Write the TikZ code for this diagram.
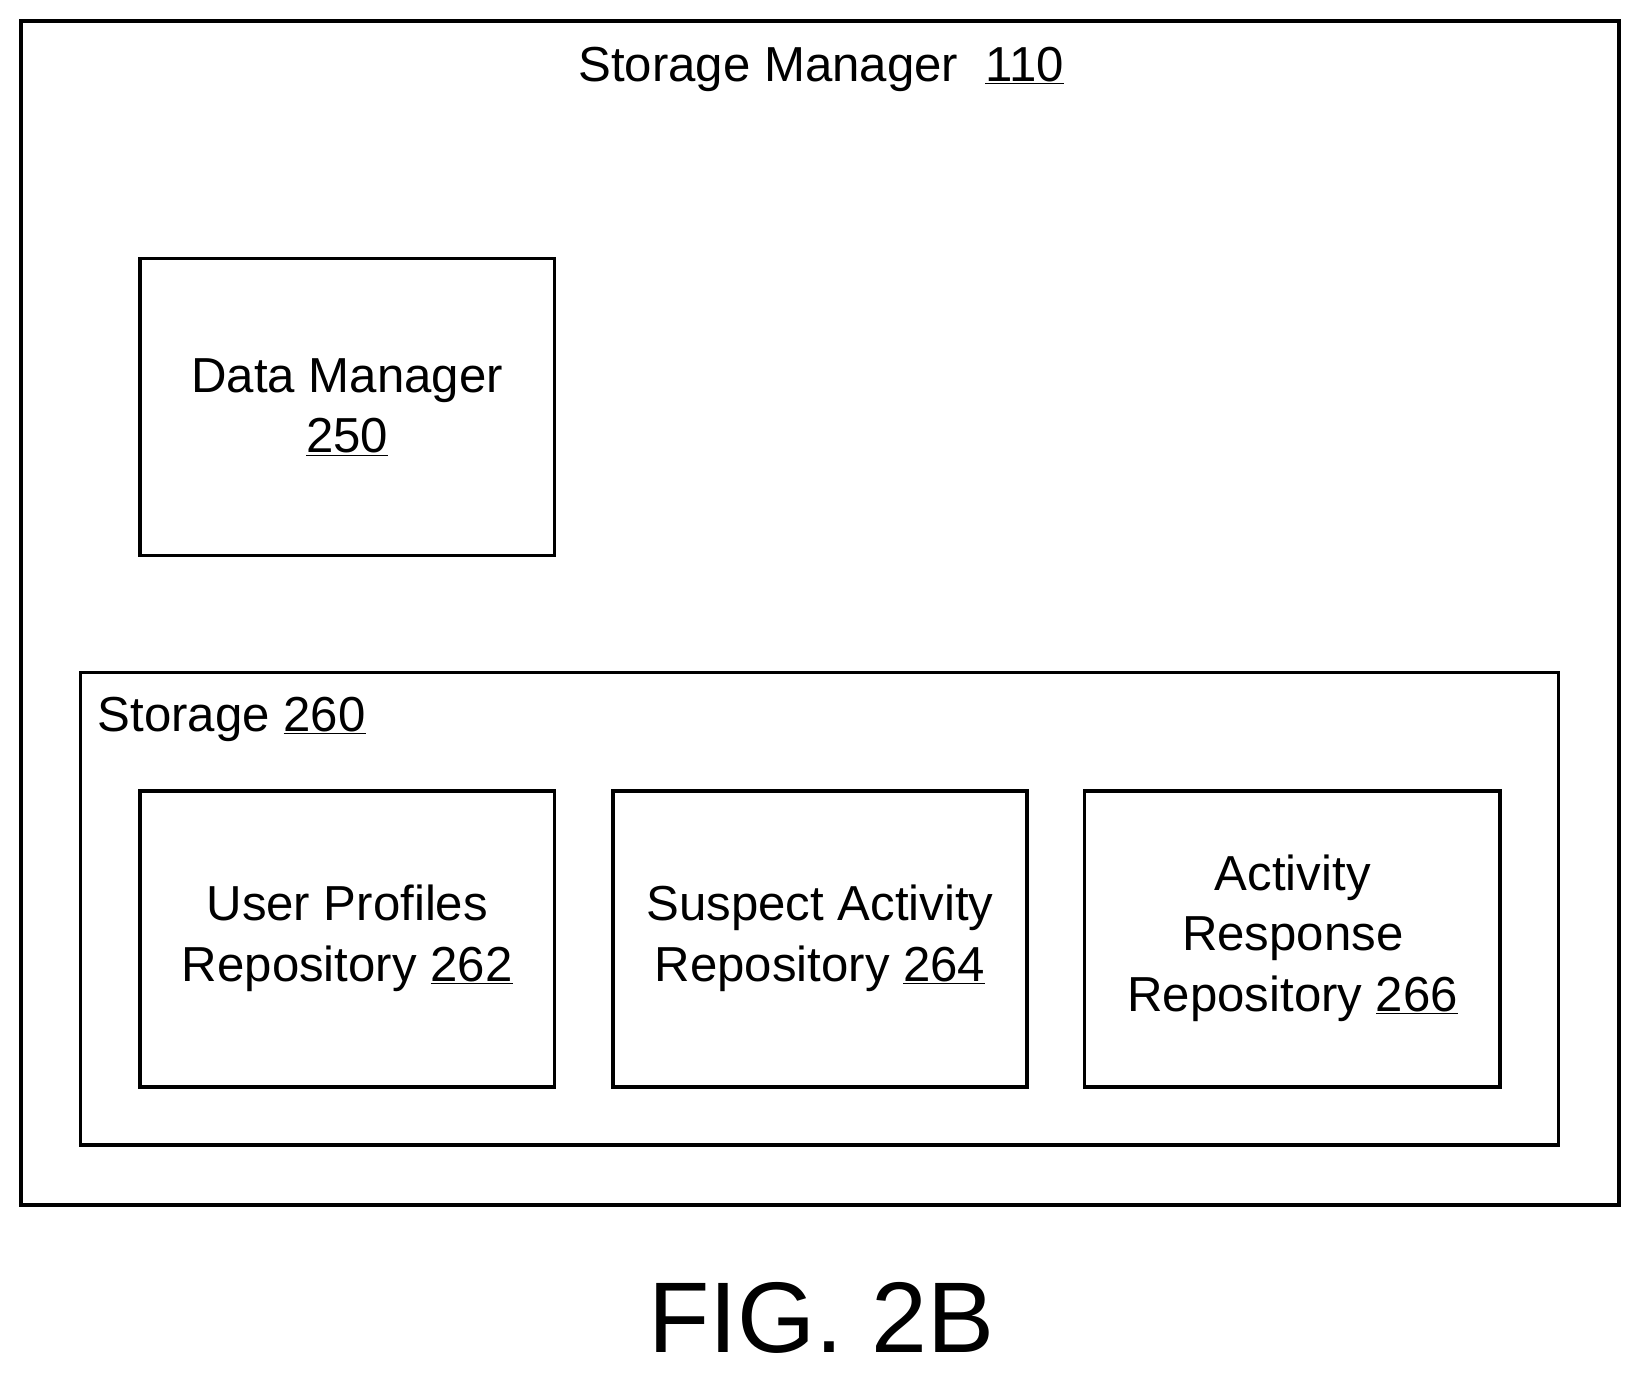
\documentclass[tikz,border=0pt]{standalone}
\usepackage{fontspec}
\setmainfont{Liberation Sans}
\begin{document}
\begin{tikzpicture}[x=1pt,y=-1pt,
  box/.style={draw,line width=3.5pt},
  lbl/.style={font=\fontsize{47}{58}\selectfont,align=center}]
\useasboundingbox (0,0) rectangle (1568,1314);
\draw[box] (20,20) rectangle (1548,1152);
\node[lbl] (t) at (785,66) {Storage Manager\ \ \underline{110}};
\draw[box] (134,247) rectangle (530,531);
\node[lbl] (dm) at (332,389) {Data Manager\\\underline{250}};
\draw[box] (77,643) rectangle (1490,1095);
\node[lbl,anchor=west] (st) at (90,688) {Storage \underline{260}};
\draw[box] (134,756) rectangle (530,1039);
\node[lbl] (u) at (332,897) {User Profiles\\Repository \underline{262}};
\draw[box] (586,756) rectangle (982,1039);
\node[lbl] (s) at (784,897) {Suspect Activity\\Repository \underline{264}};
\draw[box] (1037,756) rectangle (1434,1039);
\node[lbl] (a) at (1236,897) {Activity\\Response\\Repository \underline{266}};
\node[font=\fontsize{96}{100}\selectfont] (f) at (785,1260) {FIG. 2B};
\end{tikzpicture}
\end{document}
